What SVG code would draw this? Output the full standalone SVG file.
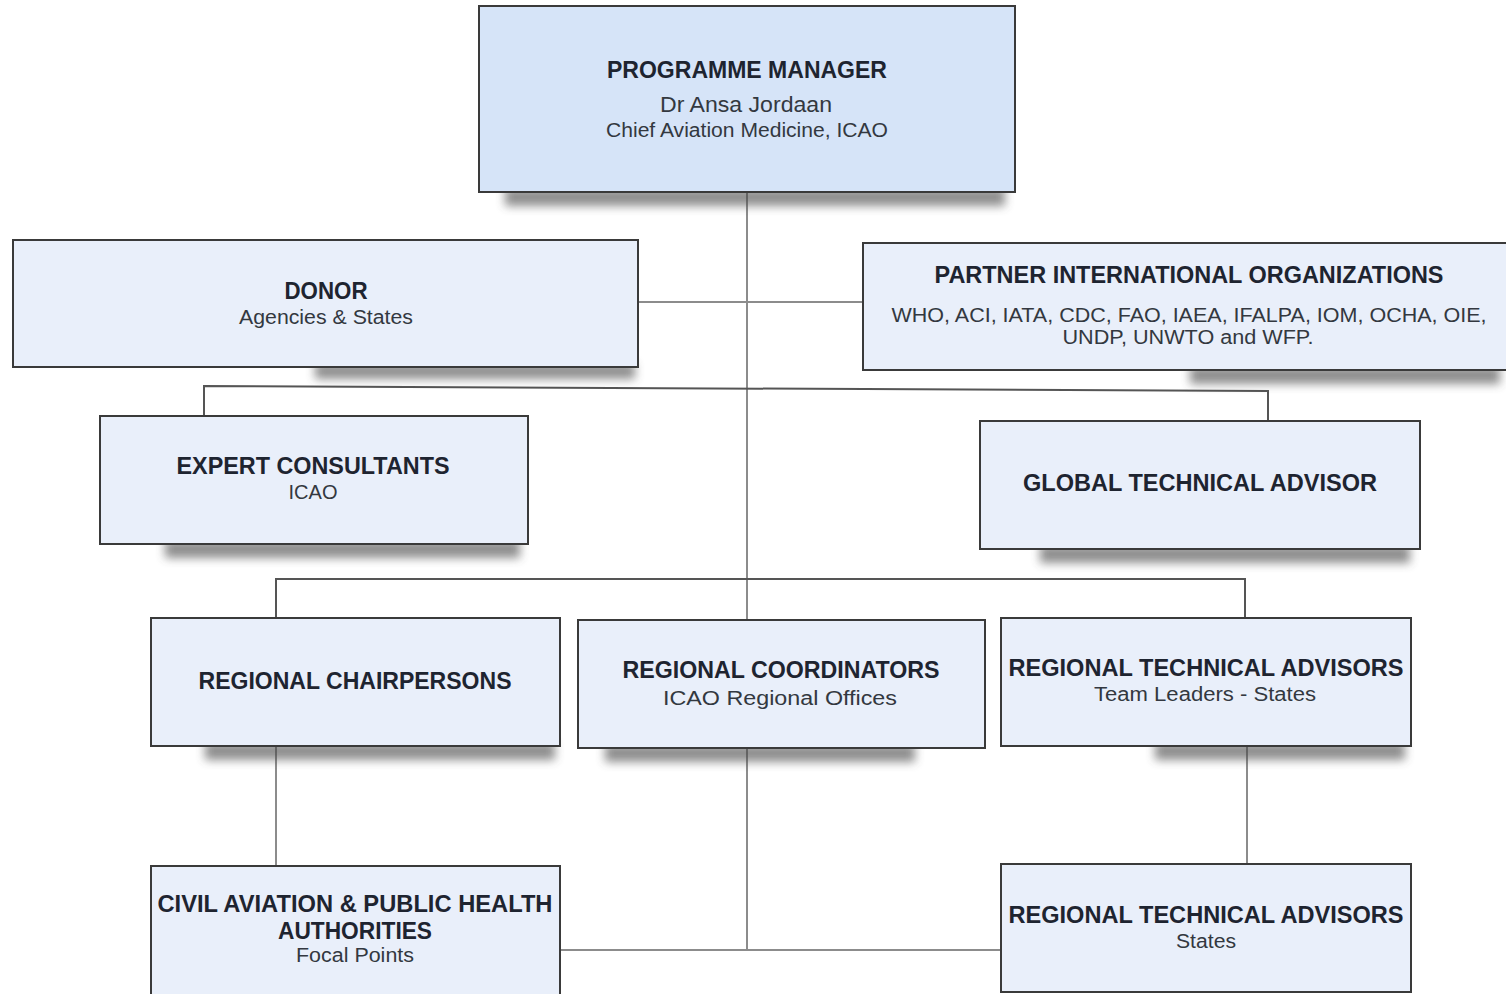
<svg xmlns="http://www.w3.org/2000/svg" width="1506" height="994" viewBox="0 0 1506 994">
<defs>
<filter id="sh" x="-10%" y="-100%" width="120%" height="300%"><feGaussianBlur stdDeviation="5"/></filter>
<style>
.box{fill:#e9effa;stroke:#3a3a3a;stroke-width:2}
.top{fill:#d6e4f8}
.shd{fill:#444;opacity:0.6;filter:url(#sh)}
.t{font-family:"Liberation Sans",Arial,sans-serif;font-weight:bold;font-size:23px;fill:#1e2430;text-anchor:middle}
.s{font-family:"Liberation Sans",Arial,sans-serif;font-size:20px;fill:#333840;text-anchor:middle}
.c{stroke:#8c8c8c;stroke-width:2;fill:none}
.b{stroke:#555;stroke-width:2;fill:none}
</style>
</defs>
<rect width="1506" height="994" fill="#ffffff"/>
<g id="connectors">
<line class="c" x1="747" y1="192" x2="747" y2="620"/>
<line class="c" x1="747" y1="748" x2="747" y2="950"/>
<line class="c" x1="638" y1="302" x2="863" y2="302"/>
<polyline class="b" points="204,416 204,386 1268,391 1268,421"/>
<polyline class="b" points="276,618 276,579 1245,579 1245,618"/>
<line class="c" x1="276" y1="746" x2="276" y2="866"/>
<line class="c" x1="1247" y1="746" x2="1247" y2="864"/>
<line class="c" x1="560" y1="950" x2="1001" y2="950"/>
</g>
<g id="shadows">
<rect class="shd" x="505" y="188" width="500" height="18"/>
<rect class="shd" x="315" y="363" width="320" height="16"/>
<rect class="shd" x="1190" y="366" width="310" height="18"/>
<rect class="shd" x="165" y="540" width="355" height="18"/>
<rect class="shd" x="1040" y="545" width="370" height="18"/>
<rect class="shd" x="205" y="742" width="350" height="18"/>
<rect class="shd" x="605" y="744" width="310" height="18"/>
<rect class="shd" x="1155" y="742" width="250" height="18"/>
</g>
<g id="programme-manager">
<rect class="box top" x="479" y="6" width="536" height="186"/>
<text class="t" x="747" y="78" textLength="280" lengthAdjust="spacingAndGlyphs">PROGRAMME  MANAGER</text>
<text class="s" x="746" y="112" style="font-size:22px" textLength="172" lengthAdjust="spacingAndGlyphs">Dr Ansa Jordaan</text>
<text class="s" x="747" y="137" textLength="282" lengthAdjust="spacingAndGlyphs">Chief Aviation Medicine, ICAO</text>
</g>
<g id="donor">
<rect class="box" x="13" y="240" width="625" height="127"/>
<text class="t" x="326" y="299" textLength="83" lengthAdjust="spacingAndGlyphs">DONOR</text>
<text class="s" x="326" y="324" textLength="174" lengthAdjust="spacingAndGlyphs">Agencies &amp; States</text>
</g>
<g id="partner">
<rect class="box" x="863" y="243" width="645" height="127"/>
<text class="t" x="1189" y="283" textLength="509" lengthAdjust="spacingAndGlyphs">PARTNER  INTERNATIONAL  ORGANIZATIONS</text>
<text class="s" x="1189" y="322" textLength="595" lengthAdjust="spacingAndGlyphs">WHO, ACI, IATA, CDC, FAO, IAEA, IFALPA, IOM, OCHA, OIE,</text>
<text class="s" x="1188" y="344" textLength="251" lengthAdjust="spacingAndGlyphs">UNDP, UNWTO and WFP.</text>
</g>
<g id="expert-consultants">
<rect class="box" x="100" y="416" width="428" height="128"/>
<text class="t" x="313" y="474" textLength="273" lengthAdjust="spacingAndGlyphs">EXPERT  CONSULTANTS</text>
<text class="s" x="313" y="499" textLength="49" lengthAdjust="spacingAndGlyphs">ICAO</text>
</g>
<g id="global-technical-advisor">
<rect class="box" x="980" y="421" width="440" height="128"/>
<text class="t" x="1200" y="491" textLength="354" lengthAdjust="spacingAndGlyphs">GLOBAL  TECHNICAL  ADVISOR</text>
</g>
<g id="regional-chairpersons">
<rect class="box" x="151" y="618" width="409" height="128"/>
<text class="t" x="355" y="689" textLength="313" lengthAdjust="spacingAndGlyphs">REGIONAL  CHAIRPERSONS</text>
</g>
<g id="regional-coordinators">
<rect class="box" x="578" y="620" width="407" height="128"/>
<text class="t" x="781" y="678" textLength="317" lengthAdjust="spacingAndGlyphs">REGIONAL  COORDINATORS</text>
<text class="s" x="780" y="705" textLength="234" lengthAdjust="spacingAndGlyphs">ICAO Regional  Offices</text>
</g>
<g id="regional-technical-advisors-team">
<rect class="box" x="1001" y="618" width="410" height="128"/>
<text class="t" x="1206" y="676" textLength="395" lengthAdjust="spacingAndGlyphs">REGIONAL  TECHNICAL  ADVISORS</text>
<text class="s" x="1205" y="701" textLength="222" lengthAdjust="spacingAndGlyphs">Team Leaders - States</text>
</g>
<g id="civil-aviation">
<rect class="box" x="151" y="866" width="409" height="130"/>
<text class="t" x="355" y="912" textLength="395" lengthAdjust="spacingAndGlyphs">CIVIL AVIATION &amp; PUBLIC  HEALTH</text>
<text class="t" x="355" y="939" textLength="154" lengthAdjust="spacingAndGlyphs">AUTHORITIES</text>
<text class="s" x="355" y="962" textLength="118" lengthAdjust="spacingAndGlyphs">Focal Points</text>
</g>
<g id="regional-technical-advisors-states">
<rect class="box" x="1001" y="864" width="410" height="128"/>
<text class="t" x="1206" y="923" textLength="395" lengthAdjust="spacingAndGlyphs">REGIONAL  TECHNICAL  ADVISORS</text>
<text class="s" x="1206" y="948" textLength="60" lengthAdjust="spacingAndGlyphs">States</text>
</g>
</svg>
